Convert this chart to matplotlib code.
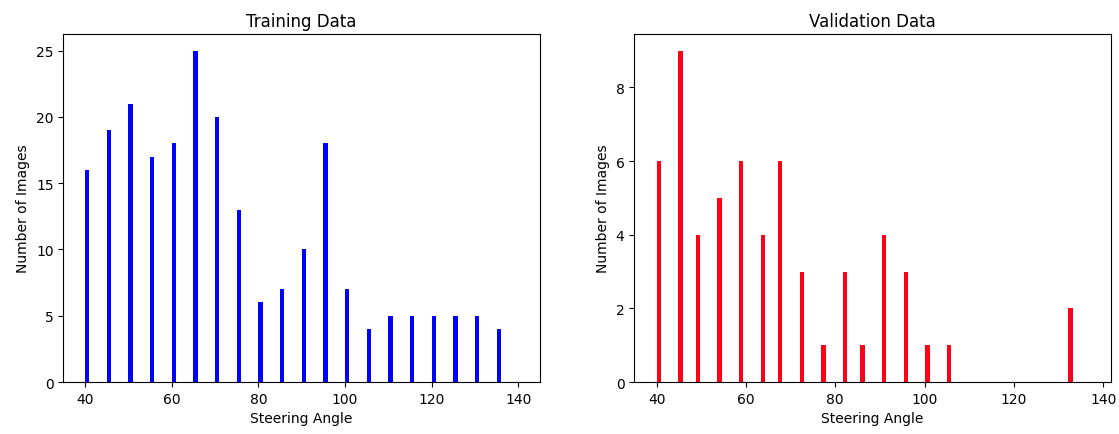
import matplotlib
matplotlib.use("Agg")
import matplotlib.pyplot as plt

# steering angle values (left edges of each bin) and image counts
train_angles = [40, 45, 50, 55, 60, 65, 70, 75, 80, 85, 90, 95, 100, 105, 110, 115, 120, 125, 130, 135]
train_counts = [16, 19, 21, 17, 18, 25, 20, 13, 6, 7, 10, 18, 7, 4, 5, 5, 5, 5, 5, 4]

val_angles = [40, 45.0, 49.5, 54.0, 58.9, 63.4, 68.0, 72.5, 77.4, 82.0, 86.4, 91.2, 95.8, 100.3, 105.2, 132.7]
val_counts = [6, 9, 4, 5, 6, 4, 6, 3, 1, 3, 1, 4, 3, 1, 1, 2]

fig = plt.figure(figsize=(11.19, 4.35), dpi=100)
ax1 = fig.add_axes([0.0566, 0.1195, 0.426, 0.80])
ax2 = fig.add_axes([0.5668, 0.1195, 0.426, 0.80])

# Training histogram: 100 bins over 40-140
ax1.hist(train_angles, bins=100, range=(40, 140), weights=train_counts, color="blue")
ax1.set_xlim(35, 145)
ax1.set_title("Training Data")
ax1.set_xlabel("Steering Angle")
ax1.set_ylabel("Number of Images")

# Validation histogram: 100 bins over 40-137
ax2.hist(val_angles, bins=100, range=(40, 137), weights=val_counts, color="#ff0018")
ax2.set_xlim(35, 141.7)
ax2.set_title("Validation Data")
ax2.set_xlabel("Steering Angle")
ax2.set_ylabel("Number of Images")

fig.savefig("out.png", dpi=100)
